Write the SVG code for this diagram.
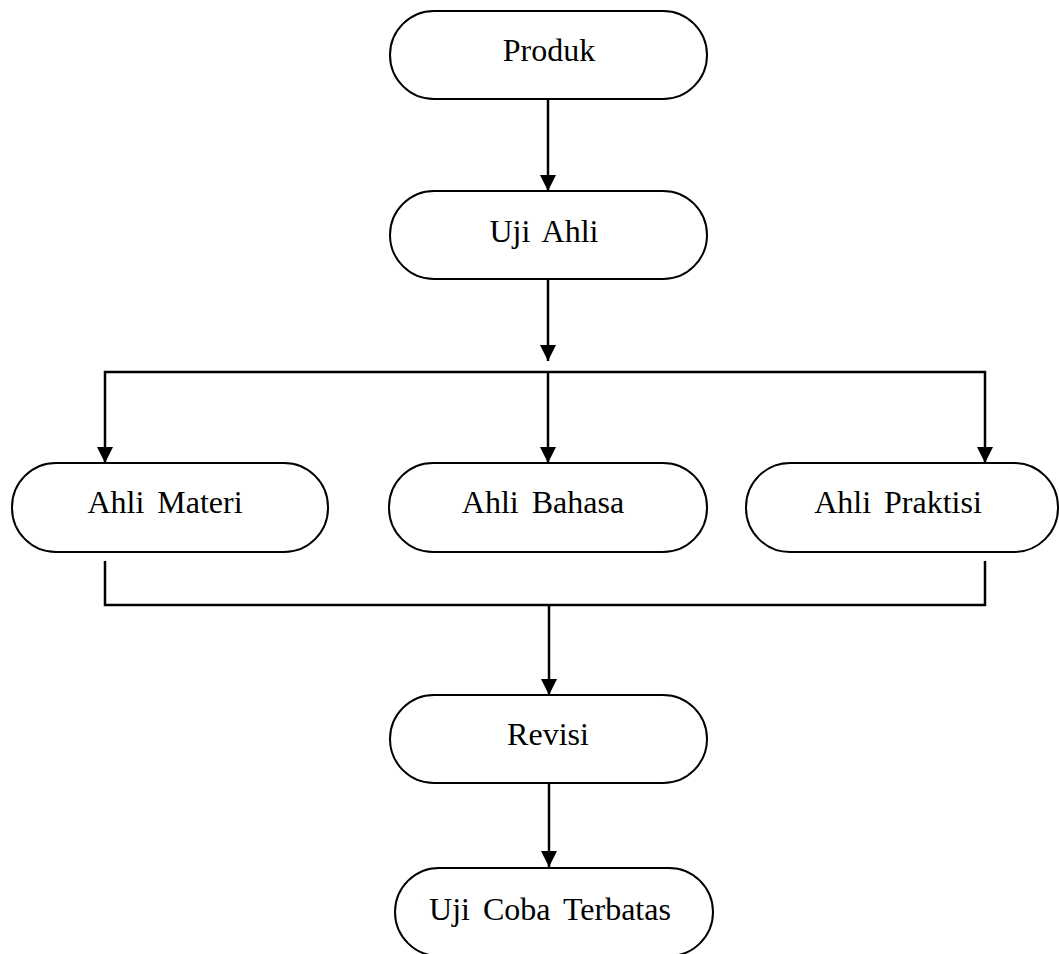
<svg xmlns="http://www.w3.org/2000/svg" width="1059" height="954" viewBox="0 0 1059 954">
  <style>
    .node { fill: #ffffff; stroke: #000000; stroke-width: 2; }
    .label { font-family: "Liberation Serif", "Times New Roman", serif; font-size: 32px; fill: #000000; text-anchor: middle; word-spacing: 5px; }
    .conn { fill: none; stroke: #000000; stroke-width: 2.5; }
  </style>
  <defs>
    <marker id="arrow" markerUnits="userSpaceOnUse" markerWidth="16" markerHeight="16" viewBox="0 0 16 16" refX="16" refY="8" orient="auto">
      <path d="M0,0 L16,8 L0,16 Z" fill="#000000"/>
    </marker>
  </defs>
  <rect width="1059" height="954" fill="#ffffff"/>
  <g id="connectors">
    <line class="conn" x1="548" y1="99" x2="548" y2="191" marker-end="url(#arrow)"/>
    <line class="conn" x1="548" y1="279" x2="548" y2="361" marker-end="url(#arrow)"/>
    <line class="conn" x1="104" y1="372" x2="986" y2="372"/>
    <line class="conn" x1="105" y1="371" x2="105" y2="463" marker-end="url(#arrow)"/>
    <line class="conn" x1="548" y1="371" x2="548" y2="463" marker-end="url(#arrow)"/>
    <line class="conn" x1="985" y1="371" x2="985" y2="463" marker-end="url(#arrow)"/>
    <polyline class="conn" points="105,561 105,605 985,605 985,561"/>
    <line class="conn" x1="549" y1="605" x2="549" y2="695" marker-end="url(#arrow)"/>
    <line class="conn" x1="549" y1="783" x2="549" y2="867" marker-end="url(#arrow)"/>
  </g>
  <g id="produk">
    <rect class="node" x="390" y="11" width="317" height="88" rx="44" ry="44"/>
    <text class="label" x="549" y="61">Produk</text>
  </g>
  <g id="uji-ahli">
    <rect class="node" x="390" y="191" width="317" height="88" rx="44" ry="44"/>
    <text class="label" x="544" y="242">Uji Ahli</text>
  </g>
  <g id="ahli-materi">
    <rect class="node" x="12" y="463" width="316" height="89" rx="44" ry="44"/>
    <text class="label" x="165" y="513">Ahli Materi</text>
  </g>
  <g id="ahli-bahasa">
    <rect class="node" x="389" y="463" width="318" height="89" rx="44" ry="44"/>
    <text class="label" x="543" y="513">Ahli Bahasa</text>
  </g>
  <g id="ahli-praktisi">
    <rect class="node" x="746" y="463" width="312" height="89" rx="44" ry="44"/>
    <text class="label" x="898" y="513">Ahli Praktisi</text>
  </g>
  <g id="revisi">
    <rect class="node" x="390" y="695" width="317" height="88" rx="44" ry="44"/>
    <text class="label" x="548" y="745">Revisi</text>
  </g>
  <g id="uji-coba-terbatas">
    <rect class="node" x="395" y="868" width="318" height="88" rx="44" ry="44"/>
    <text class="label" x="550" y="920">Uji Coba Terbatas</text>
  </g>
</svg>
